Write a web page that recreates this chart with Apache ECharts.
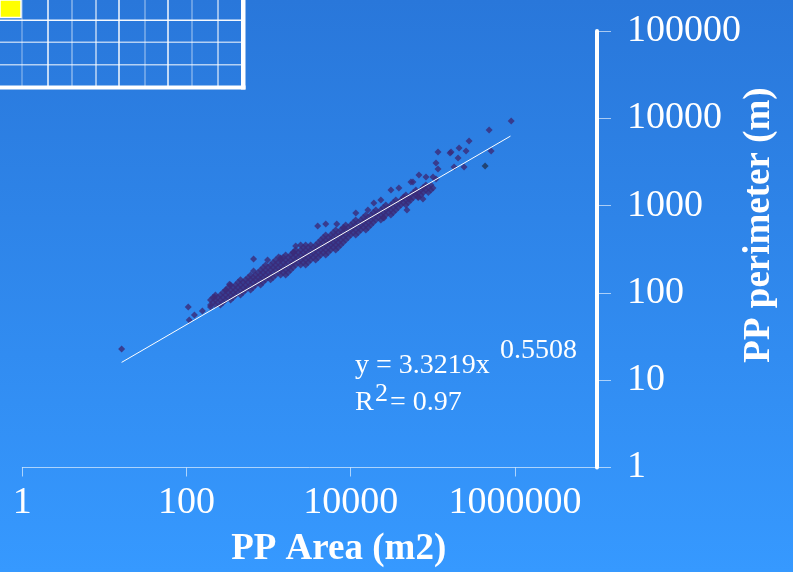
<!DOCTYPE html>
<html><head><meta charset="utf-8">
<script src="https://cdn.jsdelivr.net/npm/echarts@6/dist/echarts.min.js"></script>
<style>html,body{margin:0;padding:0;background:#2f8af0}#c{width:793px;height:572px}</style>
</head><body><div id="c"></div>
<script>
// ---- data (area m2, perimeter m) ----
const densePoints = [
[196,82.9],[196,72.7],
[225,94.6],[225,82.9],[225,72.7],
[259,94.6],[259,82.9],[259,72.7],
[299,108],[299,94.6],[299,82.9],
[344,123],[344,108],[344,94.6],[344,82.9],
[395,123],[395,108],[395,94.6],
[455,141],[455,123],[455,108],[455,94.6],
[524,141],[524,123],[524,108],
[603,160],[603,141],[603,123],[603,108],
[693,160],[693,141],[693,123],
[798,183],[798,160],[798,141],[798,123],
[918,209],[918,183],[918,160],[918,141],
[1057,209],[1057,183],[1057,160],[1057,141],
[1216,238],[1216,209],[1216,183],[1216,160],
[1400,238],[1400,209],[1400,183],[1400,160],
[1611,272],[1611,238],[1611,209],[1611,183],[1611,160],
[1854,272],[1854,238],[1854,209],[1854,183],
[2134,310],[2134,272],[2134,238],[2134,209],
[2456,310],[2456,272],[2456,238],[2456,209],
[2826,354],[2826,310],[2826,272],[2826,238],[2826,209],
[3252,354],[3252,310],[3252,272],[3252,238],
[3742,354],[3742,310],[3742,272],[3742,238],
[4306,403],[4306,354],[4306,310],[4306,272],
[4955,460],[4955,403],[4955,354],[4955,310],[4955,272],
[5702,460],[5702,403],[5702,354],[5702,310],
[6562,525],[6562,460],[6562,403],[6562,354],[6562,310],
[7551,525],[7551,460],[7551,403],[7551,354],
[8690,599],[8690,525],[8690,460],[8690,403],
[10000,599],[10000,525],[10000,460],
[11500,684],[11500,599],[11500,525],[11500,460],
[13270,684],[13270,599],[13270,525],
[15270,780],[15270,684],[15270,599],[15270,525],
[17570,780],[17570,684],[17570,599],
[20220,890],[20220,780],[20220,684],
[23270,890],[23270,780],[23270,684],
[26780,1016],[26780,890],[26780,780],
[30820,1016],[30820,890],[30820,780],
[35460,1159],[35460,1016],[35460,890],
[40810,1159],[40810,1016],
[46960,1322],[46960,1159],[46960,1016],
[54040,1322],[54040,1159],
[62190,1509],[62190,1322],
[71560,1509],[71560,1322],
[82350,1722],[82350,1509],
[94770,1722],[94770,1509]
];
const denseMidPoints = [
[210,88.6],[210,77.6],
[241,88.6],[241,77.6],
[278,101],[278,88.6],[278,77.6],
[321,115],[321,101],[321,88.6],
[369,115],[369,101],[369,88.6],
[424,132],[424,115],[424,101],
[488,132],[488,115],[488,101],
[562,150],[562,132],[562,115],
[647,150],[647,132],[647,115],
[744,171],[744,150],[744,132],
[856,196],[856,171],[856,150],[856,132],
[985,196],[985,171],[985,150],
[1134,223],[1134,196],[1134,171],[1134,150],
[1305,223],[1305,196],[1305,171],
[1502,254],[1502,223],[1502,196],[1502,171],
[1729,254],[1729,223],[1729,196],[1729,171],
[1989,290],[1989,254],[1989,223],[1989,196],
[2289,290],[2289,254],[2289,223],
[2635,331],[2635,290],[2635,254],[2635,223],
[3032,331],[3032,290],[3032,254],[3032,223],
[3489,331],[3489,290],[3489,254],
[4015,378],[4015,331],[4015,290],[4015,254],
[4620,431],[4620,378],[4620,331],[4620,290],
[5317,431],[5317,378],[5317,331],[5317,290],
[6118,491],[6118,431],[6118,378],[6118,331],
[7041,491],[7041,431],[7041,378],[7041,331],
[8102,561],[8102,491],[8102,431],[8102,378],
[9323,561],[9323,491],[9323,431],
[10730,640],[10730,561],[10730,491],
[12350,640],[12350,561],[12350,491],
[14210,730],[14210,640],[14210,561],
[16350,730],[16350,640],[16350,561],
[18820,833],[18820,730],[18820,640],
[21660,833],[21660,730],
[24920,951],[24920,833],[24920,730],
[28680,951],[28680,833],
[33000,1085],[33000,951],[33000,833],
[37970,1085],[37970,951],
[43700,1238],[43700,1085],
[50290,1238],[50290,1085],
[57870,1413],[57870,1238],
[66590,1413],[66590,1238],
[76630,1612],[76630,1413],
[88180,1612],[88180,1413]
];
const sparsePoints = [
[901000,9310],[485600,7345],[276700,5495],[208900,4571],[162200,4005],[115700,4111],
[109400,3076],[240400,2768],[203200,3510],[181500,2768],[254300,4220],[513800,4220],
[100500,2127],[82600,2127],[67800,2243],[57300,1863],[75900,1591],[100500,1591],
[30900,1509],[48400,890],[75900,1191],[19140,1071],[16180,890],[25360,721],
[3965,584],[4966,615],[6765,615],[11540,822],[38650,1591],[23330,1159],
[2019,294],[1402,251],[656,245],[656,178],[334,126],[105,68.9],[108,48.9],
[125,55.8],[156,62.1],[196,68.9],[219,89.8],[301,108],[16.2,22.8],
[44500,1255],[62400,1432],[51200,1191],[65900,1255],[109400,2018],[115700,2626],[166800,4111],
[1324,258],[2137,345],[8240,554],[54200,1863],[972,238],[2456,354]
];
const darkPoints = [[433800,2843]];
const trendPoints = [[16.2,16.0],[883000,6250]];
const xTickValues = [1, 100, 10000, 1000000];
const yTickValues = [1, 10, 100, 1000, 10000, 100000];
const equationMain = 'y = 3.3219x';
const equationExp = '0.5508';
const r2Main = 'R';
const r2Sup = '2';
const r2Value = '= 0.97';
const xTitle = 'PP Area (m2)';
const yTitle = 'PP perimeter (m)';

const serif = '"Liberation Serif", "Times New Roman", serif';
const chart = echarts.init(document.getElementById('c'));

const tableCols = [22, 48, 72, 96, 119, 145, 168, 192, 218];
const tableColOp = [0.35, 0.95, 0.45, 0.7, 0.95, 0.4, 0.95, 0.4, 0.7];
const tableRows = [20.3, 42.3, 64.7];
const tableRowOp = [0.95, 0.65, 0.65];
const graphics = [];
tableCols.forEach((x, i) => graphics.push({type:'line', shape:{x1:x, y1:0, x2:x, y2:87}, style:{stroke:'rgba(255,255,255,' + tableColOp[i] + ')', lineWidth:1.5}}));
tableRows.forEach((y, i) => graphics.push({type:'line', shape:{x1:0, y1:y, x2:242, y2:y}, style:{stroke:'rgba(255,255,255,' + tableRowOp[i] + ')', lineWidth:1.5}}));
graphics.push({type:'rect', shape:{x:0, y:0, width:21, height:17.5}, style:{fill:'#ffff00', stroke:'#ffffff', lineWidth:1.5}});
graphics.push({type:'rect', shape:{x:241, y:0, width:4.5, height:89.5}, style:{fill:'#ffffff'}});
graphics.push({type:'rect', shape:{x:0, y:85.5, width:245.5, height:4}, style:{fill:'#ffffff'}});

function txt(t, x, y, size) {
  return {type:'text', x:x, y:y, z:20, style:{text:t, fill:'#ffffff', font:'normal ' + size + 'px ' + serif, align:'left', verticalAlign:'middle'}};
}
graphics.push(txt(equationMain, 355, 366, 28));
graphics.push(txt(equationExp, 500, 351, 28));
graphics.push(txt(r2Main, 355, 403, 28));
graphics.push(txt(r2Sup, 375, 394, 26));
graphics.push(txt(r2Value, 390, 403, 28));
graphics.push({type:'text', x:338.7, y:549.5, z:20, style:{text:xTitle, fill:'#ffffff', font:'bold 37px ' + serif, align:'center', verticalAlign:'middle'}});
graphics.push({type:'text', x:759, y:225, rotation:Math.PI/2, z:20, style:{text:yTitle, fill:'#ffffff', font:'bold 37px ' + serif, align:'center', verticalAlign:'middle'}});

const labelFmt = v => { const r = Math.round(v); return r > 1000000 ? '' : String(r); };
const pointStyle = {color:'#3b2a78'};

chart.setOption({
  animation: false,
  backgroundColor: {type:'linear', x:0, y:0, x2:0, y2:1, colorStops:[{offset:0, color:'#2977da'}, {offset:1, color:'#3699ff'}]},
  grid: {left:22.3, right:196, top:31, bottom:104.5},
  xAxis: {
    type:'log', logBase:100, min:1, max:10000000,
    splitLine:{show:false},
    axisLine:{lineStyle:{color:'rgba(255,255,255,0.6)', width:1}},
    axisTick:{inside:false, length:9, lineStyle:{color:'rgba(255,255,255,0.6)', width:1}},
    axisLabel:{color:'#ffffff', fontFamily:serif, fontSize:38, margin:17, formatter:labelFmt, showMaxLabel:false},
    minorTick:{show:false}
  },
  yAxis: {
    type:'log', logBase:10, min:1, max:100000, position:'right',
    splitLine:{show:false},
    axisLine:{show:true, lineStyle:{color:'#ffffff', width:4}},
    axisTick:{show:true, inside:false, length:14, lineStyle:{color:'rgba(255,255,255,0.6)', width:1}},
    axisLabel:{color:'#ffffff', fontFamily:serif, fontSize:38, margin:30, formatter:v => String(Math.round(v)), padding:[0,0,6,0]}
  },
  series: [
    {type:'scatter', data:densePoints, symbol:'diamond', symbolSize:7, itemStyle:pointStyle, z:2},
    {type:'scatter', data:denseMidPoints, symbol:'diamond', symbolSize:7, itemStyle:pointStyle, z:2},
    {type:'scatter', data:sparsePoints, symbol:'diamond', symbolSize:7, itemStyle:pointStyle, z:2},
    {type:'scatter', data:darkPoints, symbol:'diamond', symbolSize:7, itemStyle:{color:'#1f3556'}, z:2},
    {type:'line', data:trendPoints, showSymbol:false, symbol:'none', lineStyle:{color:'#ffffff', width:1}, z:5}
  ],
  graphic: graphics
});
</script></body></html>
